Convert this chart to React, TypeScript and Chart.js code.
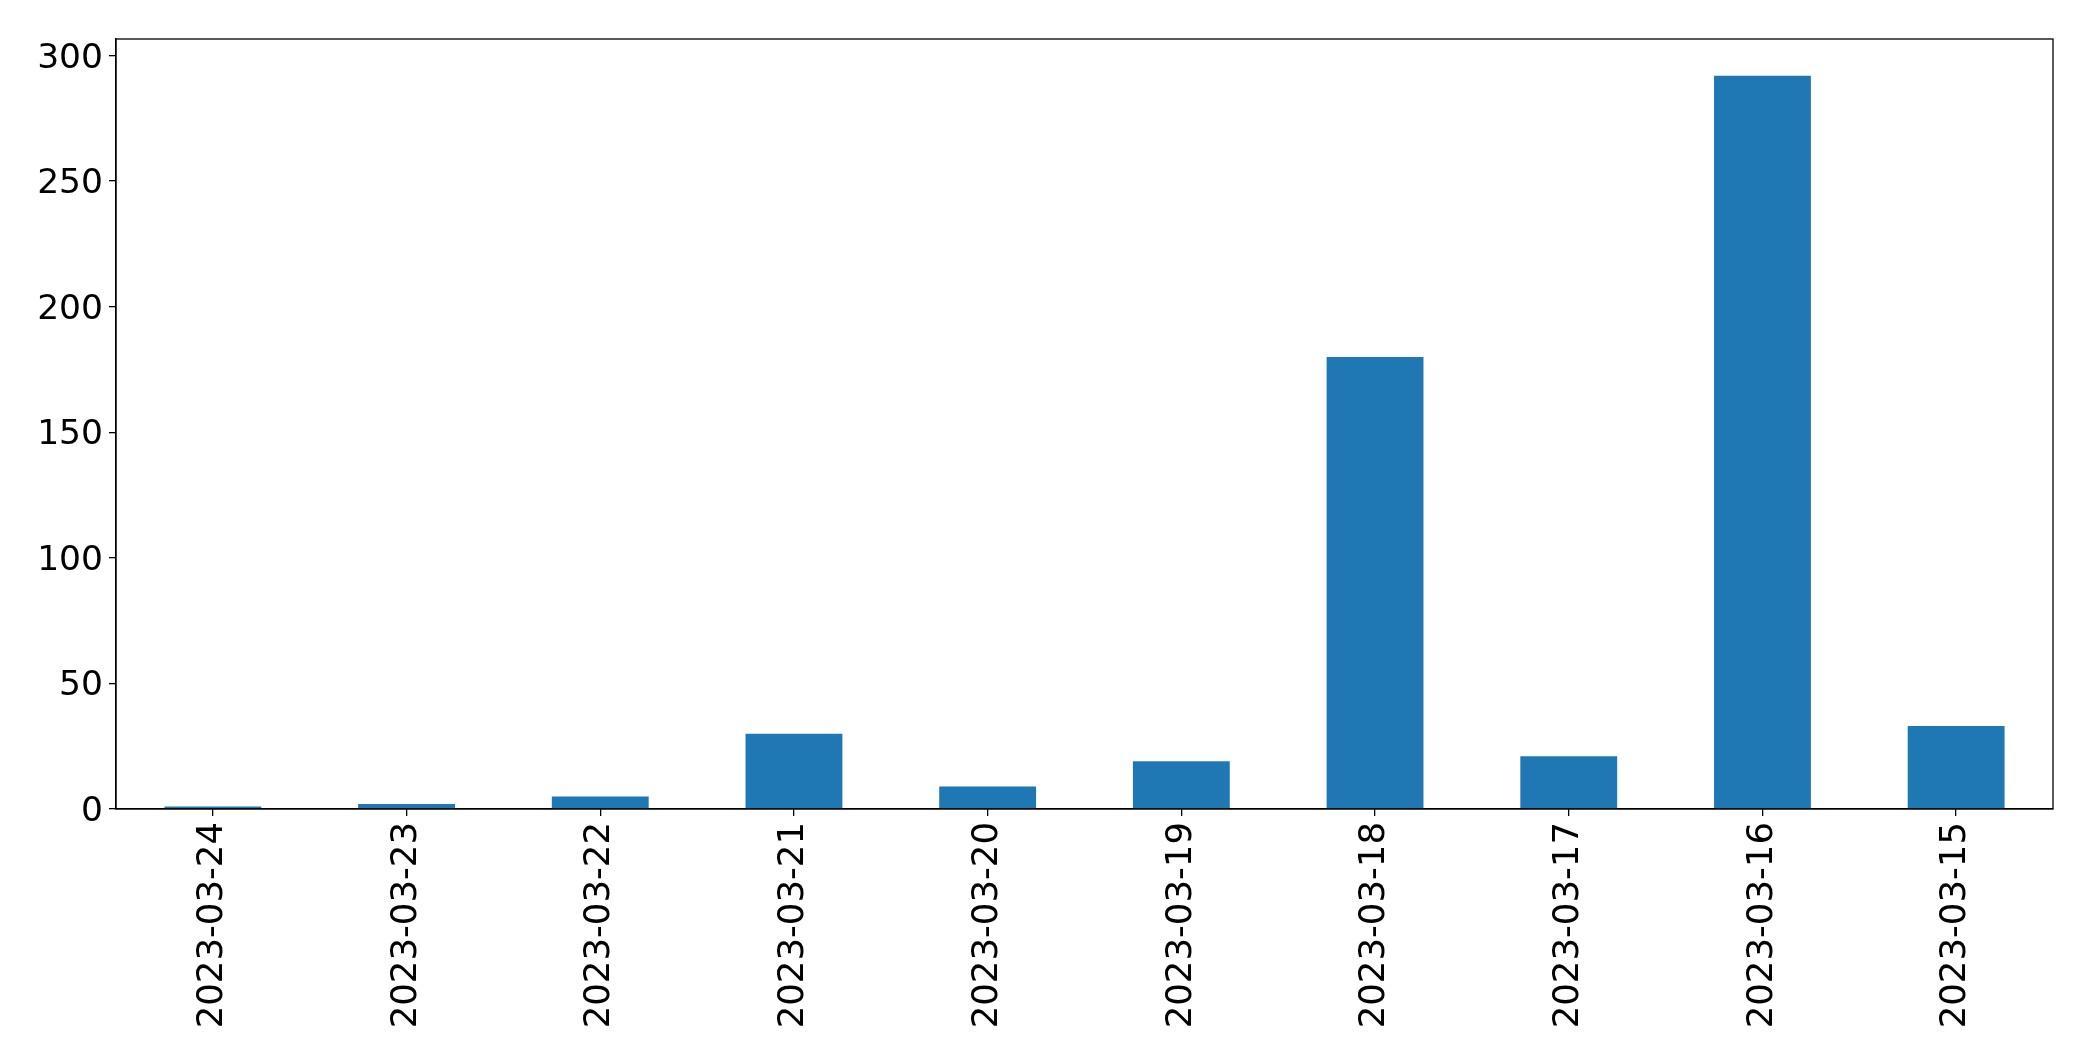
import React, { useEffect, useRef } from "react";
import { Chart, registerables } from "chart.js";

Chart.register(...registerables);

const categories: string[] = [
  "2023-03-24",
  "2023-03-23",
  "2023-03-22",
  "2023-03-21",
  "2023-03-20",
  "2023-03-19",
  "2023-03-18",
  "2023-03-17",
  "2023-03-16",
  "2023-03-15",
];

const values: number[] = [1, 2, 5, 30, 9, 19, 180, 21, 292, 33];

const yTicks: number[] = [0, 50, 100, 150, 200, 250, 300];

const yMax = 306.6;

const frame = {
  id: "frame",
  afterDraw(chart: any) {
    const { ctx, chartArea } = chart;
    ctx.save();
    ctx.strokeStyle = "#000";
    ctx.lineWidth = 1.3;
    ctx.strokeRect(chartArea.left, chartArea.top, chartArea.right - chartArea.left, chartArea.bottom - chartArea.top);
    ctx.restore();
  },
};

export default function App() {
  const ref = useRef<HTMLCanvasElement | null>(null);

  useEffect(() => {
    if (!ref.current) return;
    const chart = new Chart(ref.current, {
      type: "bar",
      data: {
        labels: categories,
        datasets: [
          {
            data: values,
            backgroundColor: "#1f77b4",
            borderWidth: 0,
            barPercentage: 0.5,
            categoryPercentage: 1,
          },
        ],
      },
      options: {
        animation: false,
        responsive: false,
        maintainAspectRatio: false,
        devicePixelRatio: 1,
        layout: { padding: { top: 39, right: 40, left: 0, bottom: 0 } },
        plugins: {
          legend: { display: false },
          tooltip: { enabled: false },
        },
        scales: {
          x: {
            offset: true,
            grid: {
              display: true,
              drawOnChartArea: false,
              drawTicks: true,
              tickLength: 7,
              color: "#000",
              lineWidth: 1.3,
              offset: false,
            },
            border: { display: true, color: "#000", width: 1.3 },
            ticks: {
              color: "#000",
              font: { family: "DejaVu Sans", size: 35.5 },
              minRotation: 90,
              maxRotation: 90,
              padding: 6,
              autoSkip: false,
            },
            afterFit(scale: any) {
              scale.height = 252;
            },
          },
          y: {
            min: 0,
            max: yMax,
            grid: {
              display: true,
              drawOnChartArea: false,
              drawTicks: true,
              tickLength: 7,
              color: "#000",
              lineWidth: 1.3,
            },
            border: { display: true, color: "#000", width: 1.3 },
            ticks: {
              color: "#000",
              font: { family: "DejaVu Sans", size: 34.5 },
              padding: 6,
              labelOffset: 3,
            },
            afterBuildTicks(scale: any) {
              scale.ticks = yTicks.map((v) => ({ value: v }));
            },
            afterFit(scale: any) {
              scale.width = 116;
            },
          },
        },
      },
      plugins: [frame],
    });
    return () => chart.destroy();
  }, []);

  return (
    <div style={{ position: "fixed", left: 0, top: 0, width: 2093, height: 1061, background: "#fff" }}>
      <canvas ref={ref} width={2093} height={1061} style={{ display: "block" }} />
    </div>
  );
}
